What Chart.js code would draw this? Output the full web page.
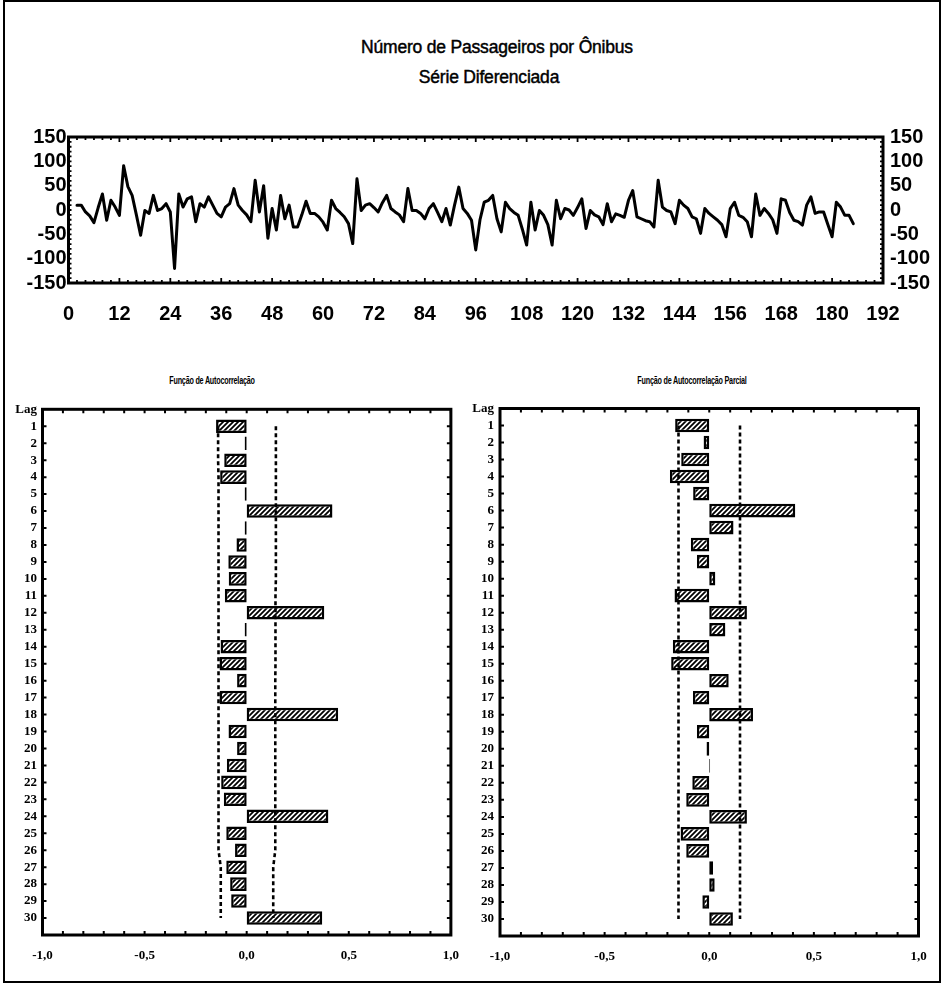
<!DOCTYPE html>
<html lang="pt">
<head>
<meta charset="utf-8">
<title>Número de Passageiros por Ônibus</title>
<script src="https://cdn.jsdelivr.net/npm/chart.js@4.4.1/dist/chart.umd.min.js"></script>
<style>
  html, body { margin:0; padding:0; background:#fff; }
  body { width:943px; height:986px; position:relative; overflow:hidden; -webkit-font-smoothing:antialiased; }
  canvas { position:absolute; }
  .txt { position:absolute; color:#000; white-space:nowrap; text-align:center; line-height:20px;
         font-family:'Liberation Sans',Arial,sans-serif; font-size:17.5px; letter-spacing:-0.2px;
         -webkit-text-stroke:0.45px #000; }
  .sub { position:absolute; color:#000; white-space:nowrap; text-align:center; line-height:12px;
         font-family:'Liberation Sans',Arial,sans-serif; font-size:10px; font-weight:bold; letter-spacing:-0.3px;
         transform:scaleX(0.72); transform-origin:50% 50%; }
  #frame { position:absolute; left:3px; top:0px; width:938px; height:983px; border:2px solid #000; box-sizing:border-box; pointer-events:none; }
</style>
</head>
<body>
<div class="txt" style="left:297px; top:37px; width:400px;">Número de Passageiros por Ônibus</div>
<div class="txt" style="left:289px; top:67px; width:400px;">Série Diferenciada</div>
<canvas id="top" width="943" height="222" style="left:0;top:118px;"></canvas>
<div class="sub" style="left:112px; top:375px; width:200px;">Função de Autocorrelação</div>
<div class="sub" style="left:592px; top:375px; width:200px;">Função de Autocorrelação Parcial</div>
<canvas id="acf" width="472" height="590" style="left:0;top:390px;"></canvas>
<canvas id="pacf" width="471" height="590" style="left:472px;top:390px;"></canvas>
<div id="frame"></div>
<script>
// ---------- data ----------
const seriesStart = 2;
const seriesValues = [
  10, 10, -4, -12, -26, 5, 33, -21, 20, 6,
  -11, 91, 48, 30, -10, -52, -1, -7, 30, -1,
  3, 13, -4, -120, 33, 6, 23, 27, -24, 13,
  6, 27, 10, -7, -14, 6, 13, 44, 10, -1,
  -10, -24, 61, -4, 50, -58, 3, -41, 30, -18,
  10, -35, -35, -10, 18, -7, -7, -14, -25, -41,
  20, 3, -5, -14, -28, -69, 64, -1, 10, 13,
  5, -4, 15, 30, 3, -4, -10, -24, 44, -1,
  -1, -7, -18, 3, 13, -5, -24, 3, -31, 10,
  47, 3, -7, -21, -82, -20, 16, 20, 30, -18,
  -45, 16, 3, -5, -11, -40, -72, 16, -41, -1,
  -11, -30, -72, 20, -18, 3, 0, -11, 5, 23,
  -38, -1, -10, -14, -30, 13, -24, -8, -11, -15,
  20, 40, -14, -18, -22, -24, -35, 61, 6, -1,
  -4, -28, 20, 10, 3, -14, -18, -48, 3, -7,
  -14, -21, -30, -55, 3, 16, -11, -15, -24, -55,
  33, -11, 3, -7, -20, -48, 23, 20, -5, -21,
  -24, -31, 10, 27, -7, -4, -4, -30, -55, 16,
  6, -11, -11, -28
];
const timeTicks = [0, 12, 24, 36, 48, 60, 72, 84, 96, 108, 120, 132, 144, 156, 168, 180, 192];
const levelTicks = [-150, -100, -50, 0, 50, 100, 150];

const lags = [1,2,3,4,5,6,7,8,9,10,11,12,13,14,15,16,17,18,19,20,21,22,23,24,25,26,27,28,29,30];
const acfValues = [
  -0.15, -0.01, -0.11, -0.13, -0.01, 0.42, -0.01, -0.05, -0.09, -0.088,
  -0.107, 0.38, -0.01, -0.128, -0.133, -0.047, -0.133, 0.448, -0.089, -0.047,
  -0.097, -0.125, -0.112, 0.40, -0.10, -0.057, -0.10, -0.081, -0.076, 0.37
];
const acfUpper = [
  0.143, 0.143, 0.143, 0.143, 0.143, 0.143, 0.143, 0.143, 0.143, 0.143,
  0.141, 0.141, 0.141, 0.141, 0.141, 0.140, 0.140, 0.140, 0.140, 0.140,
  0.140, 0.140, 0.140, 0.140, 0.140, 0.140, 0.130, 0.130, 0.130, 0.130
];
const acfLower = [
  -0.140, -0.140, -0.140, -0.138, -0.138, -0.138, -0.138, -0.138, -0.138, -0.138,
  -0.138, -0.138, -0.138, -0.138, -0.138, -0.138, -0.138, -0.138, -0.138, -0.138,
  -0.138, -0.138, -0.138, -0.138, -0.138, -0.138, -0.127, -0.127, -0.127, -0.127
];
const pacfValues = [
  -0.163, -0.027, -0.134, -0.188, -0.077, 0.411, 0.116, -0.088, -0.059, 0.029,
  -0.166, 0.180, 0.077, -0.174, -0.182, 0.093, -0.078, 0.209, -0.059, -0.013,
  0.004, -0.081, -0.110, 0.180, -0.137, -0.110, 0.018, 0.026, -0.033, 0.113
];
const pacfUpper = lags.map(() => 0.147);
const pacfLower = lags.map(() => -0.147);
const corrTicks = [-1, -0.5, 0, 0.5, 1];
const corrTickLabels = ['-1,0', '-0,5', '0,0', '0,5', '1,0'];

// ---------- helpers ----------
const sansBold = { family: "'Liberation Sans',Arial,sans-serif", size: 20, weight: 'bold' };
const serifBold = { family: "'Liberation Serif','DejaVu Serif',serif", size: 13, weight: 'bold' };

function makeHatch() {
  const c = document.createElement('canvas');
  const n = 5;
  c.width = n; c.height = n;
  const g = c.getContext('2d');
  g.fillStyle = '#fff'; g.fillRect(0, 0, n, n);
  g.strokeStyle = '#000'; g.lineWidth = 1.8;
  g.beginPath();
  g.moveTo(-1, n + 1); g.lineTo(n + 1, -1);
  g.moveTo(-1, 1); g.lineTo(1, -1);
  g.moveTo(n - 1, n + 1); g.lineTo(n + 1, n - 1);
  g.stroke();
  return g.createPattern(c, 'repeat');
}
const hatch = makeHatch();

const boxPlugin = {
  id: 'box',
  afterDatasetsDraw(chart, args, o) {
    const { ctx, chartArea: a } = chart;
    const xs = chart.scales.x, ys = chart.scales.y;
    ctx.save();
    ctx.strokeStyle = '#000';
    ctx.lineWidth = o.tickWidth;
    ctx.beginPath();
    const nx = Math.round((o.xMax - o.xMin) / o.xStep);
    for (let i = 0; i <= nx; i++) {
      const v = o.xMin + i * o.xStep;
      const p = xs.getPixelForValue(v);
      const L = (o.xMajor && Math.abs(v / o.xMajor - Math.round(v / o.xMajor)) < 1e-6) ? o.majorLen : o.len;
      ctx.moveTo(p, a.top); ctx.lineTo(p, a.top + L);
      ctx.moveTo(p, a.bottom); ctx.lineTo(p, a.bottom - L);
    }
    const ny = Math.round((o.yMax - o.yMin) / o.yStep);
    for (let i = 0; i <= ny; i++) {
      const v = o.yMin + i * o.yStep;
      const p = ys.getPixelForValue(v);
      ctx.moveTo(a.left, p); ctx.lineTo(a.left + o.len, p);
      ctx.moveTo(a.right, p); ctx.lineTo(a.right - o.len, p);
    }
    ctx.stroke();
    ctx.lineWidth = o.borderWidth;
    ctx.strokeRect(a.left, a.top, a.right - a.left, a.bottom - a.top);
    ctx.restore();
  }
};

// ---------- top chart: differenced series ----------
new Chart(document.getElementById('top'), {
  type: 'line',
  data: {
    datasets: [{
      data: seriesValues.map((v, i) => ({ x: seriesStart + i, y: v })),
      borderColor: '#000', borderWidth: 3, borderJoinStyle: 'round', borderCapStyle: 'round',
      pointRadius: 0, tension: 0, fill: false
    }]
  },
  options: {
    responsive: false, animation: false, events: [],
    layout: { padding: { top: 18, left: 0, right: 0, bottom: 0 } },
    plugins: {
      legend: { display: false }, tooltip: { enabled: false },
      box: { xMin: 0, xMax: 192, xStep: 2, xMajor: 12, yMin: -150, yMax: 150, yStep: 10,
             len: 3, majorLen: 5, tickWidth: 1.8, borderWidth: 3 }
    },
    scales: {
      x: {
        type: 'linear', min: 0, max: 192,
        afterBuildTicks: s => { s.ticks = timeTicks.map(v => ({ value: v })); },
        afterFit: s => { s.height = 57; },
        grid: { display: false, drawTicks: false }, border: { display: false },
        ticks: { padding: 19, color: '#000', font: sansBold, autoSkip: false, maxRotation: 0 }
      },
      y: {
        position: 'left', min: -150, max: 150,
        afterBuildTicks: s => { s.ticks = levelTicks.map(v => ({ value: v })); },
        afterFit: s => { s.width = 68.5; },
        grid: { display: false, drawTicks: false }, border: { display: false },
        ticks: { padding: 2, color: '#000', font: sansBold, autoSkip: false }
      },
      y2: {
        position: 'right', min: -150, max: 150,
        afterBuildTicks: s => { s.ticks = levelTicks.map(v => ({ value: v })); },
        afterFit: s => { s.width = 60; },
        grid: { display: false, drawTicks: false }, border: { display: false },
        ticks: { padding: 7, color: '#000', font: sansBold, autoSkip: false }
      }
    }
  },
  plugins: [boxPlugin]
});

// ---------- correlogram charts ----------
function corrChart(id, values, lower, upper, geo) {
  return new Chart(document.getElementById(id), {
    type: 'bar',
    data: {
      datasets: [
        { type: 'line', indexAxis: 'y', data: lags.map((l, i) => ({ x: lower[i], y: l })),
          borderColor: '#000', borderWidth: 2.6, borderDash: [4, 3], pointRadius: 0, fill: false, tension: 0 },
        { type: 'line', indexAxis: 'y', data: lags.map((l, i) => ({ x: upper[i], y: l })),
          borderColor: '#000', borderWidth: 2.6, borderDash: [4, 3], pointRadius: 0, fill: false, tension: 0 },
        { type: 'bar', indexAxis: 'y', data: lags.map((l, i) => ({ x: values[i], y: l })),
          backgroundColor: hatch, borderColor: '#000', borderWidth: 2.5, borderSkipped: false,
          categoryPercentage: 1, barPercentage: 0.8 }
      ]
    },
    options: {
      indexAxis: 'y', responsive: false, animation: false, events: [],
      layout: { padding: { top: geo.padTop, right: geo.padRight, left: 0, bottom: 0 } },
      plugins: {
        legend: { display: false }, tooltip: { enabled: false },
        box: { xMin: -1, xMax: 1, xStep: 0.1, xMajor: 0, yMin: 1, yMax: 30, yStep: 1,
               len: 4, majorLen: 4, tickWidth: 2, borderWidth: 3 }
      },
      scales: {
        x: {
          type: 'linear', min: -1, max: 1,
          afterBuildTicks: s => { s.ticks = corrTicks.map(v => ({ value: v })); },
          afterFit: s => { s.height = geo.xHeight; },
          grid: { display: false, drawTicks: false }, border: { display: false },
          ticks: { padding: 13, color: '#000', font: serifBold, autoSkip: false, maxRotation: 0,
                   callback: (v, i) => corrTickLabels[i] }
        },
        y: {
          type: 'linear', reverse: true, min: 0, max: 31, offset: false,
          afterBuildTicks: s => { s.ticks = [0].concat(lags).map(v => ({ value: v })); },
          afterFit: s => { s.width = geo.yWidth; },
          grid: { display: false, drawTicks: false, offset: false }, border: { display: false },
          ticks: { padding: geo.yPad, color: '#000', font: serifBold, autoSkip: false,
                   callback: v => (v === 0 ? 'Lag' : String(v)) }
        }
      }
    },
    plugins: [boxPlugin]
  });
}

corrChart('acf', acfValues, acfLower, acfUpper, { padTop: 19.3, padRight: 18.5, xHeight: 45, yWidth: 42.5, yPad: 5.5 });
corrChart('pacf', pacfValues, pacfLower, pacfUpper, { padTop: 18.5, padRight: 24.5, xHeight: 44, yWidth: 28, yPad: 6 });
</script>
</body>
</html>
